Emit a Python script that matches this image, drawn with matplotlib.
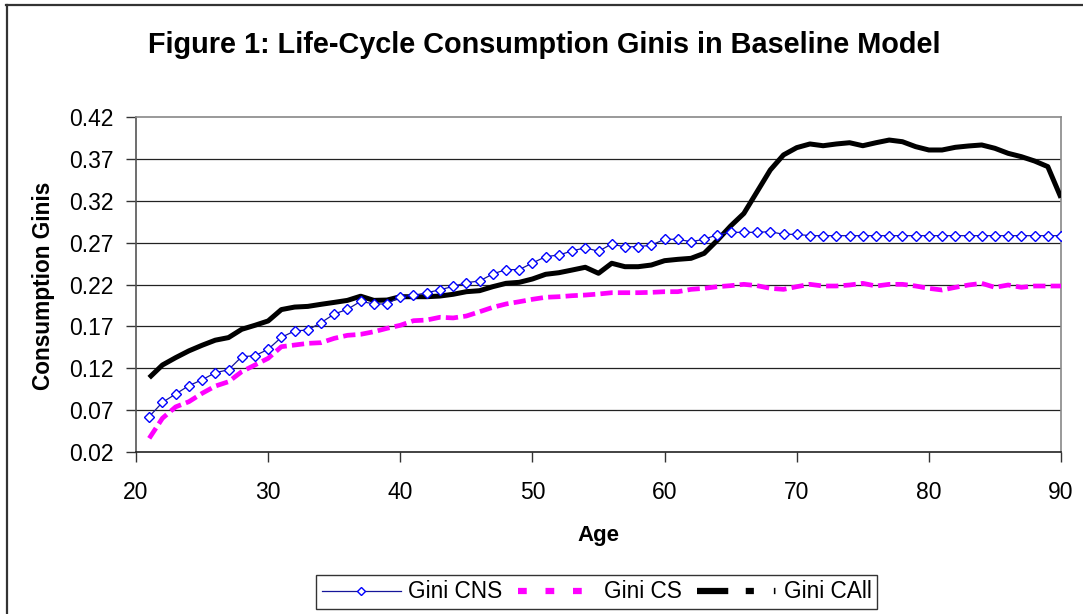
import matplotlib
matplotlib.use("Agg")
import matplotlib.pyplot as plt
from matplotlib.lines import Line2D

plt.rcParams['font.family'] = ['Liberation Sans', 'DejaVu Sans']

ages = list(range(21, 91))

gini_cns = [0.062, 0.079, 0.089, 0.099, 0.106, 0.1145, 0.118, 0.1336, 0.1348, 0.1425,
            0.1568, 0.1644, 0.1656, 0.1743, 0.1847, 0.1903, 0.1999, 0.1967, 0.1967, 0.2054,
            0.2070, 0.2101, 0.2137, 0.2177, 0.2222, 0.2242, 0.2326, 0.2378, 0.2378, 0.2457,
            0.2533, 0.2553, 0.2601, 0.2640, 0.2597, 0.2685, 0.2649, 0.2653, 0.2670, 0.2741,
            0.2741, 0.2712, 0.2741, 0.2796, 0.2824, 0.2824, 0.2824, 0.2832, 0.2800, 0.2800,
            0.2784, 0.2784, 0.2784, 0.2784, 0.2784, 0.2784, 0.2784, 0.2784, 0.2784, 0.2784,
            0.2784, 0.2784, 0.2784, 0.2784, 0.2784, 0.2784, 0.2784, 0.2784, 0.2784, 0.2784]

gini_cs = [0.036, 0.060, 0.0736, 0.0798, 0.0898, 0.0985, 0.1037, 0.1157, 0.1237, 0.1317,
           0.1456, 0.1476, 0.1496, 0.1504, 0.1556, 0.1592, 0.1604, 0.1635, 0.1676, 0.1712,
           0.1767, 0.1775, 0.1808, 0.1800, 0.1823, 0.1874, 0.1927, 0.1967, 0.1994, 0.2023,
           0.2047, 0.2054, 0.2066, 0.2074, 0.2086, 0.2102, 0.2102, 0.2102, 0.2106, 0.2114,
           0.2114, 0.2142, 0.2154, 0.2174, 0.2186, 0.2202, 0.2186, 0.2154, 0.2142, 0.2174,
           0.2202, 0.2182, 0.2182, 0.2194, 0.2214, 0.2182, 0.2202, 0.2202, 0.2182, 0.2154,
           0.2134, 0.2166, 0.2194, 0.2214, 0.2166, 0.2194, 0.2166, 0.2182, 0.2182, 0.2182]

gini_call = [0.1085, 0.1237, 0.1325, 0.1406, 0.1473, 0.1534, 0.1565, 0.1664, 0.1712, 0.1764,
             0.1900, 0.1930, 0.1938, 0.1963, 0.1986, 0.2010, 0.2060, 0.2010, 0.2014, 0.2054,
             0.2054, 0.2054, 0.2062, 0.2083, 0.2114, 0.2126, 0.2174, 0.2214, 0.2226, 0.2266,
             0.2322, 0.2341, 0.2373, 0.2406, 0.2334, 0.2454, 0.2413, 0.2413, 0.2433, 0.2485,
             0.2501, 0.2513, 0.2573, 0.2730, 0.2900, 0.3050, 0.3310, 0.3570, 0.3750, 0.3837,
             0.3881, 0.3860, 0.3881, 0.3896, 0.3860, 0.3896, 0.3928, 0.3908, 0.3849, 0.3809,
             0.3809, 0.3841, 0.3857, 0.3869, 0.3829, 0.3769, 0.3729, 0.3677, 0.3610, 0.3238]

x_ticks = [20, 30, 40, 50, 60, 70, 80, 90]
y_ticks = [0.02, 0.07, 0.12, 0.17, 0.22, 0.27, 0.32, 0.37, 0.42]
y_labels = ["0.02", "0.07", "0.12", "0.17", "0.22", "0.27", "0.32", "0.37", "0.42"]

W, H = 1083, 614
fig = plt.figure(figsize=(W / 100, H / 100), dpi=100)
fig.patch.set_facecolor('white')

L, R, T, B = 136, 1061, 117.3, 451.7
ax = fig.add_axes([L / W, 1 - B / H, (R - L) / W, (B - T) / H])

ax.set_xlim(20, 90)
ax.set_ylim(0.02, 0.42)
ax.set_xticks(x_ticks)
ax.set_yticks(y_ticks)
ax.set_yticklabels(y_labels)
ax.tick_params(axis='both', labelsize=16.5, direction='out', length=7, width=1, color='#333333')
ax.tick_params(axis='x', pad=14)
ax.tick_params(axis='y', pad=9)

for y in y_ticks[1:-1]:
    ax.axhline(y, color='#222222', lw=0.9, zorder=1)

ax.spines['left'].set_color('#555555')
ax.spines['bottom'].set_color('#222222')
ax.spines['top'].set_color('#888888')
ax.spines['right'].set_color('#888888')
for s in ax.spines.values():
    s.set_linewidth(1.2)

ax.plot(ages, gini_call, color='black', lw=3.6, solid_capstyle='butt',
        solid_joinstyle='round', zorder=3)
ax.plot(ages, gini_cs, color='#ff00ff', lw=3.4, dashes=(2.6, 1.1), zorder=3)
ax.plot(ages, gini_cns, color='#15159a', lw=0.9, marker='D', markersize=5.2,
        markerfacecolor='white', markeredgecolor='#0000ff', markeredgewidth=1.0, zorder=4)

fig.text(544 / W, 1 - 45 / H, "Figure 1: Life-Cycle Consumption Ginis in Baseline Model",
         ha='center', va='center', fontsize=20.8, fontweight='bold')
fig.text(598.5 / W, 1 - 535 / H, "Age", ha='center', va='center', fontsize=16, fontweight='bold')
fig.text(44 / W, 1 - 286 / H, "Consumption Ginis", ha='center', va='center', rotation=90,
         fontsize=16.3, fontweight='bold')

h_cns = Line2D([], [], color='#15159a', lw=0.9, marker='D', markersize=4.5,
               markerfacecolor='white', markeredgecolor='#0000ff', markeredgewidth=1.0)
h_cs = Line2D([], [], color='#ff00ff', lw=4.5, dashes=(1.4, 3.0))
h_call = Line2D([], [], color='black', lw=4.5, dashes=(5.0, 2.8, 1.3, 3.2, 0.25, 3))
leg = fig.legend([h_cns, h_cs, h_call], ["Gini CNS", "Gini CS", "Gini CAll"],
                 loc='center', bbox_to_anchor=(596.5 / W, 1 - 592 / H), ncol=3,
                 fontsize=16.3, frameon=True, fancybox=False, handlelength=3.5,
                 handletextpad=0.3, columnspacing=0.7, borderpad=0.25, borderaxespad=0)
leg.get_frame().set_edgecolor('black')
leg.get_frame().set_linewidth(1.0)

# chart area border (top and left visible)
fig.add_artist(Line2D([6 / W, 1], [1 - 5 / H, 1 - 5 / H], color='#333333', lw=1.6,
                      transform=fig.transFigure))
fig.add_artist(Line2D([7 / W, 7 / W], [0, 1 - 5 / H], color='#333333', lw=1.6,
                      transform=fig.transFigure))

fig.savefig("out.png", dpi=100)
